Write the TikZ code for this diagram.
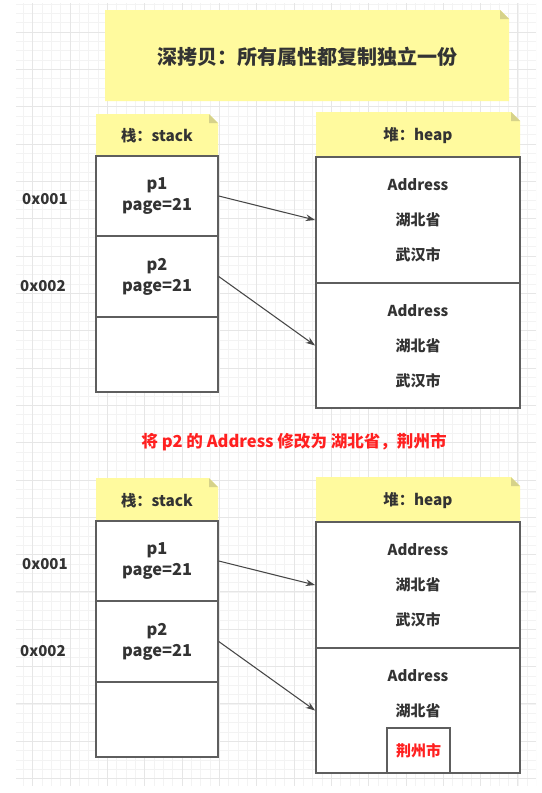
\documentclass[tikz,border=0pt]{standalone}
\usepackage{fontspec}
\setmainfont{Noto Sans CJK SC}
\usetikzlibrary{arrows.meta,fit,calc}

\definecolor{ink}{HTML}{333333}
\definecolor{notefill}{HTML}{FFFA9E}
\definecolor{foldfill}{HTML}{D6D28A}
\definecolor{gridminor}{HTML}{F3F3F3}
\definecolor{gridmajor}{HTML}{E6E6E6}
\definecolor{boxline}{HTML}{5E5E5E}
\definecolor{alert}{HTML}{FF2020}

% sticky note: name, x1, y1, x2, y2, text
\newcommand\stickynote[6]{%
  \fill[notefill] (#2,#3) -- ({#4-9},#3) -- (#4,{#3+9}) -- (#4,#5) -- (#2,#5) -- cycle;
  \fill[foldfill] ({#4-9},#3) -- ({#4-9},{#3+9}) -- (#4,{#3+9}) -- cycle;
  \node[notetext] (#1) at ({(#2+#4)/2},{(#3+#5)/2+1}) {#6};
}

\begin{document}
\begin{tikzpicture}[x=0.75pt,y=-0.75pt,
  notetext/.style={inner sep=0, text=ink, font=\fontsize{11.5}{14}\selectfont\bfseries},
  cell/.style={draw=boxline, line width=1.1pt, fill=white, inner sep=0},
  heapcell/.style={draw=boxline, line width=1.4pt, fill=white, inner sep=0},
  stacktext/.style={inner sep=0, align=center, text=ink,
    font=\fontsize{12.3}{15.75}\selectfont\bfseries},
  heaptext/.style={inner sep=0, align=center, text=ink,
    font=\fontsize{11.25}{26.25}\selectfont\bfseries},
  celltext/.style={inner sep=0, text=ink, font=\fontsize{11.25}{14}\selectfont\bfseries},
  addr/.style={inner sep=0, text=ink, font=\fontsize{11.25}{14}\selectfont\bfseries},
  ptr/.style={draw=ink!90, line width=0.8pt, -{Stealth[length=7pt,width=5pt]}}
]
\useasboundingbox (0,0) rectangle (542,793);
\fill[white] (0,0) rectangle (542,793);

% background grid
\begin{scope}
  \clip (16,3) rectangle (536,786);
  \foreach \i in {0,...,56} {
    \draw[gridminor, line width=0.6pt] ({23.33+\i*9.333},3) -- ({23.33+\i*9.333},786);
  }
  \foreach \j in {0,...,84} {
    \draw[gridminor, line width=0.6pt] (16,{4+\j*9.333}) -- (536,{4+\j*9.333});
  }
  \foreach \i in {0,...,13} {
    \draw[gridmajor, line width=0.7pt] ({32.67+\i*37.33},3) -- ({32.67+\i*37.33},786);
  }
  \foreach \j in {0,...,21} {
    \draw[gridmajor, line width=0.7pt] (16,{32+\j*37.33}) -- (536,{32+\j*37.33});
  }
\end{scope}

% title
\fill[notefill] (105,10) -- (500,10) -- (509,19) -- (509,101) -- (105,101) -- cycle;
\fill[foldfill] (500,10) -- (500,19) -- (509,19) -- cycle;
\node[inner sep=0, text=ink, font=\fontsize{15}{18}\selectfont\bfseries] (title) at (307,57)
  {深拷贝：所有属性都复制独立一份};

% ---------- before the change ----------
\stickynote{stackA}{96}{114}{218}{156}{栈：stack}
\stickynote{heapA}{316}{112}{520}{157}{堆：heap}

\node[cell, fit={(96,156) (218,236)}] (sA1) {};
\node[cell, fit={(96,236) (218,317)}] (sA2) {};
\node[cell, fit={(96,317) (218,392)}] (sA3) {};
\node[stacktext] (sA1t) at (sA1.center) {p1\\page=21};
\node[stacktext] (sA2t) at (sA2.center) {p2\\page=21};

\node[addr] (adA1) at (45,199) {0x001};
\node[addr] (adA2) at (43,286) {0x002};

\node[heapcell, fit={(316,157) (520,283)}] (hA1) {};
\node[heapcell, fit={(316,283) (520,408)}] (hA2) {};
\node[heaptext] (hA1t) at ([yshift=-0.5pt]hA1.center) {Address\\湖北省\\武汉市};
\node[heaptext] (hA2t) at ([yshift=-0.5pt]hA2.center) {Address\\湖北省\\武汉市};

\draw[ptr] (sA1.east) -- (hA1.west);
\draw[ptr] (sA2.east) -- (hA2.west);

% change note
\node[inner sep=0, text=alert, font=\fontsize{12.4}{14}\selectfont\bfseries] (change) at (294,442)
  {将 p2 的 Address 修改为 湖北省，荆州市};

% ---------- after the change ----------
\stickynote{stackB}{96}{478}{218}{521}{栈：stack}
\stickynote{heapB}{316}{477}{520}{522}{堆：heap}

\node[cell, fit={(96,521) (218,601)}] (sB1) {};
\node[cell, fit={(96,601) (218,682)}] (sB2) {};
\node[cell, fit={(96,682) (218,757)}] (sB3) {};
\node[stacktext] (sB1t) at (sB1.center) {p1\\page=21};
\node[stacktext] (sB2t) at (sB2.center) {p2\\page=21};

\node[addr] (adB1) at (45,564) {0x001};
\node[addr] (adB2) at (43,651) {0x002};

\node[heapcell, fit={(316,522) (520,648)}] (hB1) {};
\node[heapcell, fit={(316,648) (520,773)}] (hB2) {};
\node[heaptext] (hB1t) at ([yshift=-0.5pt]hB1.center) {Address\\湖北省\\武汉市};
\node[celltext] (hB2a) at (418,676) {Address};
\node[celltext] (hB2b) at (418,711) {湖北省};
\node[draw=boxline, line width=1.2pt, fill=white, inner sep=0, fit={(387,728) (450,773)}] (hB2c) {};
\node[inner sep=0, text=alert, font=\fontsize{11.25}{14}\selectfont\bfseries] (hB2ct) at (hB2c.center) {荆州市};

\draw[ptr] (sB1.east) -- (hB1.west);
\draw[ptr] (sB2.east) -- (hB2.west);
\end{tikzpicture}
\end{document}
